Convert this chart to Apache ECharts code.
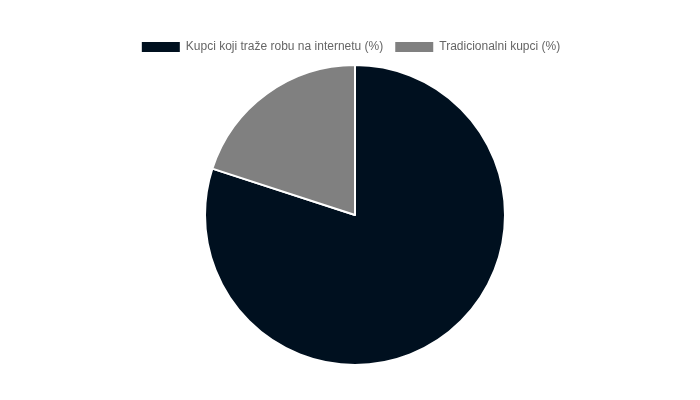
<!DOCTYPE html>
<html><head><meta charset="utf-8">
<script src="https://cdn.jsdelivr.net/npm/echarts@6/dist/echarts.min.js"></script>
<style>html,body{margin:0;padding:0;background:#fff}#c{width:700px;height:400px}</style>
</head><body><div id="c"></div>
<script>
const categories = ["Kupci koji traže robu na internetu (%)", "Tradicionalni kupci (%)"];
const values = [80, 20];
const colors = ["#00101f", "#808080"];
const chart = echarts.init(document.getElementById('c'), null, {renderer:'canvas'});
chart.setOption({
  animation:false,
  color: colors,
  legend:{
    top:35, left:'center',
    itemWidth:40, itemHeight:12, itemGap:10,
    icon:'rect',
    textStyle:{color:'#666', fontSize:12, fontFamily:'Arial, Liberation Sans, sans-serif'},
    data: categories
  },
  series:[{
    type:'pie',
    center:[355,215],
    radius:[0,150],
    startAngle:90,
    clockwise:true,
    label:{show:false},
    labelLine:{show:false},
    itemStyle:{borderColor:'#fff', borderWidth:2},
    emphasis:{disabled:true},
    data: categories.map((n,i)=>({name:n, value:values[i]}))
  }]
});
</script></body></html>
